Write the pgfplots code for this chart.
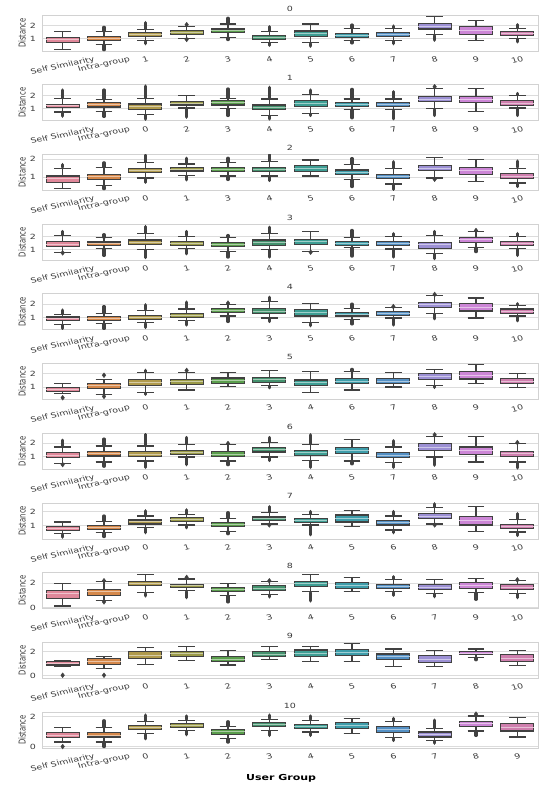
\documentclass[border=0pt]{standalone}
\usepackage{pgfplots}
\pgfplotsset{compat=1.18}
\usepgfplotslibrary{statistics}
\usepackage{fontspec}
\setmainfont{DejaVu Sans}

\definecolor{edge}{HTML}{414141}
\definecolor{framec}{HTML}{D2D2D2}
\definecolor{gridc}{HTML}{DCDCDC}
\definecolor{txt}{HTML}{3A3A3A}
\definecolor{c0}{HTML}{E0889A}
\definecolor{c1}{HTML}{D5884A}
\definecolor{c2}{HTML}{B09A4C}
\definecolor{c3}{HTML}{9A9A48}
\definecolor{c4}{HTML}{5A9E4C}
\definecolor{c5}{HTML}{44926E}
\definecolor{c6}{HTML}{3E9E94}
\definecolor{c7}{HTML}{3E9DAA}
\definecolor{c8}{HTML}{5490C4}
\definecolor{c9}{HTML}{9C90D4}
\definecolor{c10}{HTML}{CC86D6}
\definecolor{c11}{HTML}{CF7FAE}

% squeezed text
\newcommand{\sq}[1]{\scalebox{1}[0.75]{#1}}
\newcommand{\xl}[1]{\scalebox{1}[0.75]{\rotatebox{15}{#1}}}
% box: position, colour, lower whisker, q1, median, q3, upper whisker
\newcommand{\bx}[7]{\addplot[boxplot prepared={draw direction=y, draw position=#1, lower whisker=#3,
  lower quartile=#4, median=#5, upper quartile=#6, upper whisker=#7,
  box extend=0.8, whisker extend=0.4,
  every median/.style={draw=#2!50!white, line width=1pt}},
  draw=edge, fill=#2, line width=1.2pt] coordinates {};}
% dense run of outliers
\newcommand{\ol}[3]{\addplot[draw=edge, line width=3.4pt, line cap=round] coordinates {(#1,#2) (#1,#3)};}
% single outlier
\newcommand{\od}[2]{\addplot[only marks, mark=diamond*, mark size=2.4pt, draw=edge, fill=edge] coordinates {(#1,#2)};}

\pgfplotsset{
  panel/.style={
    scale only axis, width=496pt, height=36pt, anchor=north west,
    xmin=-0.5, xmax=11.5, xtick={0,...,11},
    axis line style={draw=framec, line width=0.8pt},
    ymajorgrids, grid style={draw=gridc, line width=0.8pt},
    major tick length=0pt, tick style={draw=none},
    xticklabel style={anchor=north, inner sep=0pt, yshift=-5pt,
      font=\fontsize{9.5}{11}\selectfont, text=txt},
    yticklabel style={anchor=east, inner sep=0pt, xshift=-6pt,
      font=\fontsize{9.5}{11}\selectfont, text=txt},
    ylabel={\scalebox{0.72}[1]{Distance}},
    every axis y label/.style={at={(axis description cs:-0.0403,0.5)},
      rotate=90, anchor=center, font=\fontsize{9.5}{11}\selectfont, text=txt},
    every axis title/.style={at={(axis description cs:0.5,1)}, anchor=base,
      yshift=4pt, font=\fontsize{9.5}{11}\selectfont, text=txt},
  },
  ya/.style={ytick={1,2}, yticklabels={\sq{1},\sq{2}}},
  yb/.style={ytick={0,2}, yticklabels={\sq{0},\sq{2}}},
}

\begin{document}
\begin{tikzpicture}
\useasboundingbox (0,0) rectangle (540pt,-785pt);

% ---- 0
\begin{axis}[panel, ya, at={(42pt,-15pt)}, title={\sq{0}}, ymin=0.02, ymax=2.84,
  xticklabels={\xl{Self Similarity},\xl{Intra-group},\xl{1},\xl{2},\xl{3},\xl{4},\xl{5},\xl{6},\xl{7},\xl{8},\xl{9},\xl{10}}]
\bx{0}{c0}{0.16}{0.68}{0.9}{1.08}{1.53}
\bx{1}{c1}{0.5}{0.87}{1.0}{1.13}{1.53} \ol{1}{1.6}{1.87} \ol{1}{0.45}{0.13}
\bx{2}{c2}{0.82}{1.18}{1.32}{1.45}{1.71} \ol{2}{1.78}{2.24} \ol{2}{0.76}{0.6}
\bx{3}{c3}{1.0}{1.34}{1.47}{1.6}{1.97} \od{3}{2.08} \od{3}{0.93}
\bx{4}{c4}{1.08}{1.45}{1.6}{1.74}{2.13} \ol{4}{2.2}{2.58} \ol{4}{1.02}{0.92}
\bx{5}{c5}{0.68}{0.95}{1.1}{1.24}{1.53} \ol{5}{1.6}{1.92} \ol{5}{0.62}{0.47}
\bx{6}{c6}{0.66}{1.13}{1.4}{1.58}{2.13} \ol{6}{0.6}{0.4}
\bx{7}{c7}{0.82}{1.1}{1.25}{1.39}{1.79} \ol{7}{1.86}{2.05} \ol{7}{0.76}{0.66}
\bx{8}{c8}{0.87}{1.16}{1.3}{1.45}{1.79} \ol{8}{1.86}{1.97} \ol{8}{0.8}{0.6}
\bx{9}{c9}{1.29}{1.74}{1.97}{2.18}{2.71} \ol{9}{1.22}{0.87}
\bx{10}{c10}{0.84}{1.34}{1.66}{1.97}{2.39}
\bx{11}{c11}{1.0}{1.24}{1.38}{1.53}{1.76} \ol{11}{1.83}{2.08} \ol{11}{0.94}{0.74}
\end{axis}

% ---- 1
\begin{axis}[panel, ya, at={(42pt,-84.7pt)}, title={\sq{1}}, ymin=0.06, ymax=2.87,
  xticklabels={\xl{Self Similarity},\xl{Intra-group},\xl{0},\xl{2},\xl{3},\xl{4},\xl{5},\xl{6},\xl{7},\xl{8},\xl{9},\xl{10}}]
\bx{0}{c0}{0.74}{1.08}{1.21}{1.34}{1.79} \ol{0}{1.86}{2.45} \ol{0}{0.68}{0.42}
\bx{1}{c1}{0.79}{1.13}{1.29}{1.45}{1.74} \ol{1}{1.8}{2.45} \ol{1}{0.72}{0.4}
\bx{2}{c2}{0.55}{0.95}{1.18}{1.37}{1.79} \ol{2}{1.86}{2.76} \ol{2}{0.48}{0.18}
\bx{3}{c3}{1.05}{1.29}{1.43}{1.58}{2.0} \ol{3}{0.98}{0.34}
\bx{4}{c4}{1.0}{1.29}{1.45}{1.61}{1.79} \ol{4}{1.86}{2.53} \ol{4}{0.93}{0.47}
\bx{5}{c5}{0.47}{0.95}{1.12}{1.29}{1.76} \ol{5}{1.83}{2.66} \ol{5}{0.4}{0.2}
\bx{6}{c6}{0.63}{1.18}{1.39}{1.61}{2.13} \ol{6}{2.2}{2.45} \ol{6}{0.56}{0.47}
\bx{7}{c7}{0.92}{1.18}{1.33}{1.47}{1.76} \ol{7}{1.83}{2.5} \ol{7}{0.85}{0.29}
\bx{8}{c8}{0.92}{1.18}{1.33}{1.47}{1.76} \ol{8}{1.83}{2.32} \ol{8}{0.85}{0.21}
\bx{9}{c9}{1.0}{1.53}{1.74}{1.92}{2.58} \od{9}{2.71} \ol{9}{0.93}{0.47}
\bx{10}{c10}{0.79}{1.47}{1.74}{1.97}{2.58}
\bx{11}{c11}{1.05}{1.26}{1.42}{1.61}{2.03} \ol{11}{2.1}{2.18} \ol{11}{0.98}{0.47}
\end{axis}

% ---- 2
\begin{axis}[panel, ya, at={(42pt,-154.4pt)}, title={\sq{2}}, ymin=0.24, ymax=2.28,
  xticklabels={\xl{Self Similarity},\xl{Intra-group},\xl{0},\xl{1},\xl{3},\xl{4},\xl{5},\xl{6},\xl{7},\xl{8},\xl{9},\xl{10}}]
\bx{0}{c0}{0.36}{0.7}{0.9}{1.06}{1.5} \ol{0}{1.56}{1.7}
\bx{1}{c1}{0.5}{0.84}{1.0}{1.16}{1.54} \ol{1}{1.6}{1.8} \ol{1}{0.45}{0.34}
\bx{2}{c2}{0.94}{1.26}{1.38}{1.5}{1.8} \ol{2}{1.86}{2.24} \ol{2}{0.88}{0.7}
\bx{3}{c3}{1.1}{1.34}{1.44}{1.54}{1.74} \ol{3}{1.8}{2.06} \ol{3}{1.04}{0.84}
\bx{4}{c4}{1.06}{1.3}{1.43}{1.56}{1.8} \ol{4}{1.86}{2.06} \ol{4}{1.0}{0.86}
\bx{5}{c5}{1.06}{1.3}{1.44}{1.56}{1.86} \ol{5}{1.92}{2.26} \ol{5}{1.0}{0.8}
\bx{6}{c6}{1.06}{1.3}{1.5}{1.66}{1.96}
\bx{7}{c7}{0.86}{1.14}{1.27}{1.4}{1.7} \ol{7}{1.76}{2.04} \ol{7}{0.8}{0.46}
\bx{8}{c8}{0.6}{0.9}{1.02}{1.14}{1.46} \ol{8}{1.52}{1.86} \ol{8}{0.54}{0.3}
\bx{9}{c9}{0.94}{1.36}{1.5}{1.66}{2.1} \od{9}{0.87}
\bx{10}{c10}{0.74}{1.14}{1.34}{1.54}{2.0}
\bx{11}{c11}{0.66}{0.9}{1.04}{1.18}{1.5} \ol{11}{1.56}{1.9} \ol{11}{0.6}{0.46}
\end{axis}

% ---- 3
\begin{axis}[panel, ya, at={(42pt,-224.1pt)}, title={\sq{3}}, ymin=0.18, ymax=3.0,
  xticklabels={\xl{Self Similarity},\xl{Intra-group},\xl{0},\xl{1},\xl{2},\xl{4},\xl{5},\xl{6},\xl{7},\xl{8},\xl{9},\xl{10}}]
\bx{0}{c0}{0.8}{1.25}{1.42}{1.62}{2.12} \ol{0}{2.18}{2.42} \od{0}{0.75}
\bx{1}{c1}{1.1}{1.3}{1.45}{1.6}{1.92} \ol{1}{1.98}{2.17} \ol{1}{1.04}{0.55}
\bx{2}{c2}{1.0}{1.38}{1.57}{1.75}{2.25} \ol{2}{2.32}{2.8} \ol{2}{0.94}{0.38}
\bx{3}{c3}{1.1}{1.35}{1.5}{1.65}{2.05} \ol{3}{2.12}{2.42} \ol{3}{1.04}{0.68}
\bx{4}{c4}{0.85}{1.25}{1.4}{1.55}{1.98} \ol{4}{2.04}{2.1} \ol{4}{0.8}{0.42}
\bx{5}{c5}{1.0}{1.35}{1.55}{1.75}{2.25} \ol{5}{2.32}{2.75} \ol{5}{0.94}{0.42}
\bx{6}{c6}{0.85}{1.42}{1.6}{1.8}{2.42} \od{6}{0.8}
\bx{7}{c7}{1.15}{1.35}{1.5}{1.65}{1.98} \ol{7}{2.04}{2.5} \ol{7}{1.09}{0.5}
\bx{8}{c8}{1.05}{1.35}{1.5}{1.65}{2.0} \ol{8}{2.06}{2.25} \ol{8}{0.99}{0.42}
\bx{9}{c9}{0.68}{1.1}{1.38}{1.55}{2.1} \ol{9}{2.16}{2.42} \ol{9}{0.62}{0.3}
\bx{10}{c10}{1.18}{1.55}{1.8}{1.98}{2.42} \od{10}{2.5} \ol{10}{1.12}{0.85}
\bx{11}{c11}{1.1}{1.35}{1.5}{1.65}{2.0} \ol{11}{2.06}{2.25} \ol{11}{1.04}{0.55}
\end{axis}

% ---- 4
\begin{axis}[panel, ya, at={(42pt,-293.8pt)}, title={\sq{4}}, ymin=0.1, ymax=2.77,
  xticklabels={\xl{Self Similarity},\xl{Intra-group},\xl{0},\xl{1},\xl{2},\xl{3},\xl{5},\xl{6},\xl{7},\xl{8},\xl{9},\xl{10}}]
\bx{0}{c0}{0.51}{0.77}{0.92}{1.05}{1.23} \ol{0}{1.29}{1.56} \ol{0}{0.46}{0.2}
\bx{1}{c1}{0.54}{0.8}{0.97}{1.1}{1.31} \ol{1}{1.37}{1.82} \ol{1}{0.48}{0.2}
\bx{2}{c2}{0.62}{0.87}{1.03}{1.18}{1.56} \ol{2}{1.62}{1.95} \ol{2}{0.56}{0.28}
\bx{3}{c3}{0.8}{1.03}{1.18}{1.31}{1.64} \ol{3}{1.7}{2.15} \ol{3}{0.74}{0.46}
\bx{4}{c4}{1.13}{1.38}{1.54}{1.69}{2.0} \od{4}{2.08} \ol{4}{1.07}{0.72}
\bx{5}{c5}{0.97}{1.31}{1.49}{1.69}{2.2} \ol{5}{2.26}{2.51} \ol{5}{0.91}{0.72}
\bx{6}{c6}{0.62}{1.13}{1.38}{1.62}{2.08} \ol{6}{0.56}{0.41}
\bx{7}{c7}{0.87}{1.13}{1.26}{1.38}{1.69} \ol{7}{1.75}{2.0} \ol{7}{0.81}{0.54}
\bx{8}{c8}{0.97}{1.18}{1.31}{1.44}{1.74} \od{8}{1.82} \ol{8}{0.91}{0.46}
\bx{9}{c9}{1.31}{1.77}{2.0}{2.15}{2.64} \od{9}{2.72} \ol{9}{1.25}{0.92}
\bx{10}{c10}{0.97}{1.49}{1.77}{2.08}{2.46}
\bx{11}{c11}{1.13}{1.33}{1.49}{1.64}{1.9} \ol{11}{1.96}{2.03} \ol{11}{1.07}{0.77}
\end{axis}

% ---- 5
\begin{axis}[panel, ya, at={(42pt,-363.5pt)}, title={\sq{5}}, ymin=0.1, ymax=2.77,
  xticklabels={\xl{Self Similarity},\xl{Intra-group},\xl{0},\xl{1},\xl{2},\xl{3},\xl{4},\xl{6},\xl{7},\xl{8},\xl{9},\xl{10}}]
\bx{0}{c0}{0.54}{0.67}{0.82}{0.97}{1.28} \od{0}{0.23}
\bx{1}{c1}{0.46}{0.92}{1.13}{1.28}{1.56} \od{1}{1.9} \od{1}{0.33}
\bx{2}{c2}{0.62}{1.13}{1.38}{1.56}{2.08} \ol{2}{2.14}{2.26} \ol{2}{0.56}{0.49}
\bx{3}{c3}{0.8}{1.23}{1.41}{1.56}{2.13} \od{3}{2.26}
\bx{4}{c4}{1.05}{1.31}{1.5}{1.69}{2.08}
\bx{5}{c5}{1.13}{1.38}{1.59}{1.74}{2.26} \ol{5}{1.07}{0.97}
\bx{6}{c6}{0.62}{1.13}{1.33}{1.54}{2.15}
\bx{7}{c7}{0.8}{1.26}{1.44}{1.64}{2.15} \ol{7}{2.22}{2.33}
\bx{8}{c8}{1.03}{1.26}{1.44}{1.64}{2.08}
\bx{9}{c9}{1.13}{1.56}{1.79}{2.0}{2.33} \ol{9}{1.07}{1.0}
\bx{10}{c10}{1.26}{1.62}{1.9}{2.15}{2.69}
\bx{11}{c11}{1.0}{1.26}{1.44}{1.64}{2.0}
\end{axis}

% ---- 6
\begin{axis}[panel, ya, at={(42pt,-433.2pt)}, title={\sq{6}}, ymin=0.08, ymax=2.74,
  xticklabels={\xl{Self Similarity},\xl{Intra-group},\xl{0},\xl{1},\xl{2},\xl{3},\xl{4},\xl{5},\xl{7},\xl{8},\xl{9},\xl{10}}]
\bx{0}{c0}{0.48}{0.92}{1.12}{1.3}{1.72} \ol{0}{1.78}{2.22} \od{0}{0.42}
\bx{1}{c1}{0.62}{1.05}{1.22}{1.38}{1.8} \ol{1}{1.86}{2.3} \ol{1}{0.56}{0.3}
\bx{2}{c2}{0.68}{1.0}{1.18}{1.38}{1.8} \ol{2}{1.86}{2.65} \ol{2}{0.62}{0.22}
\bx{3}{c3}{0.98}{1.18}{1.32}{1.48}{1.88} \ol{3}{1.94}{2.42} \ol{3}{0.92}{0.42}
\bx{4}{c4}{0.68}{1.02}{1.2}{1.38}{1.88} \od{4}{1.98} \ol{4}{0.62}{0.42}
\bx{5}{c5}{0.98}{1.35}{1.52}{1.68}{2.05} \ol{5}{2.11}{2.42} \ol{5}{0.92}{0.72}
\bx{6}{c6}{0.72}{1.1}{1.28}{1.48}{1.88} \ol{6}{1.94}{2.62} \ol{6}{0.66}{0.22}
\bx{7}{c7}{0.68}{1.22}{1.45}{1.68}{2.3} \ol{7}{0.62}{0.48}
\bx{8}{c8}{0.55}{0.92}{1.12}{1.3}{1.72} \ol{8}{1.78}{2.18} \ol{8}{0.49}{0.22}
\bx{9}{c9}{0.98}{1.48}{1.72}{1.98}{2.48} \od{9}{2.62} \ol{9}{0.92}{0.38}
\bx{10}{c10}{0.62}{1.18}{1.48}{1.72}{2.48}
\bx{11}{c11}{0.62}{1.02}{1.22}{1.38}{1.98} \od{11}{2.05} \ol{11}{0.56}{0.18}
\end{axis}

% ---- 7
\begin{axis}[panel, ya, at={(42pt,-502.9pt)}, title={\sq{7}}, ymin=0.05, ymax=2.62,
  xticklabels={\xl{Self Similarity},\xl{Intra-group},\xl{0},\xl{1},\xl{2},\xl{3},\xl{4},\xl{5},\xl{6},\xl{8},\xl{9},\xl{10}}]
\bx{0}{c0}{0.42}{0.65}{0.8}{0.92}{1.25} \ol{0}{0.36}{0.18}
\bx{1}{c1}{0.5}{0.72}{0.88}{1.0}{1.3} \ol{1}{1.36}{1.68} \ol{1}{0.44}{0.22}
\bx{2}{c2}{0.85}{1.12}{1.28}{1.4}{1.68} \ol{2}{1.74}{2.05} \ol{2}{0.79}{0.5}
\bx{3}{c3}{1.05}{1.3}{1.42}{1.55}{1.8} \ol{3}{1.86}{2.12} \ol{3}{0.99}{0.85}
\bx{4}{c4}{0.6}{0.92}{1.08}{1.22}{1.5} \ol{4}{1.56}{1.92} \ol{4}{0.54}{0.42}
\bx{5}{c5}{1.12}{1.35}{1.5}{1.62}{1.92} \ol{5}{1.98}{2.35} \od{5}{1.05}
\bx{6}{c6}{1.05}{1.22}{1.35}{1.48}{1.8} \ol{6}{1.86}{2.0} \ol{6}{0.99}{0.35}
\bx{7}{c7}{0.92}{1.25}{1.5}{1.75}{2.1}
\bx{8}{c8}{0.68}{1.05}{1.2}{1.35}{1.68} \ol{8}{1.74}{2.0} \ol{8}{0.62}{0.5}
\bx{9}{c9}{1.12}{1.5}{1.68}{1.88}{2.3} \ol{9}{2.36}{2.55} \od{9}{1.05}
\bx{10}{c10}{0.6}{1.05}{1.35}{1.65}{2.35}
\bx{11}{c11}{0.55}{0.78}{0.92}{1.1}{1.42} \ol{11}{1.48}{1.85} \ol{11}{0.49}{0.3}
\end{axis}

% ---- 8
\begin{axis}[panel, yb, at={(42pt,-572.6pt)}, title={\sq{8}}, ymin=-0.08, ymax=2.86,
  xticklabels={\xl{Self Similarity},\xl{Intra-group},\xl{0},\xl{1},\xl{2},\xl{3},\xl{4},\xl{5},\xl{6},\xl{7},\xl{9},\xl{10}}]
\bx{0}{c0}{0.14}{0.77}{1.15}{1.42}{2.0}
\bx{1}{c1}{0.55}{1.01}{1.29}{1.51}{2.11} \od{1}{2.19} \od{1}{0.47}
\bx{2}{c2}{1.23}{1.78}{1.97}{2.14}{2.68} \ol{2}{1.15}{0.96}
\bx{3}{c3}{1.37}{1.64}{1.78}{1.92}{2.33} \od{3}{2.47} \ol{3}{1.3}{0.82}
\bx{4}{c4}{0.96}{1.32}{1.48}{1.64}{2.0} \ol{4}{0.9}{0.47}
\bx{5}{c5}{1.1}{1.42}{1.6}{1.78}{2.11} \od{5}{2.19} \ol{5}{1.04}{0.88}
\bx{6}{c6}{1.29}{1.73}{1.95}{2.14}{2.68} \ol{6}{1.22}{0.55}
\bx{7}{c7}{1.29}{1.59}{1.84}{2.05}{2.47}
\bx{8}{c8}{1.29}{1.56}{1.74}{1.92}{2.27} \ol{8}{2.35}{2.52} \ol{8}{1.22}{1.01}
\bx{9}{c9}{1.18}{1.51}{1.68}{1.86}{2.27} \ol{9}{1.12}{0.9}
\bx{10}{c10}{1.23}{1.59}{1.84}{2.05}{2.38} \ol{10}{1.16}{0.68}
\bx{11}{c11}{1.18}{1.51}{1.68}{1.86}{2.19} \od{11}{2.27} \ol{11}{1.12}{0.82}
\end{axis}

% ---- 9
\begin{axis}[panel, yb, at={(42pt,-642.3pt)}, title={\sq{9}}, ymin=-0.2, ymax=2.74,
  xticklabels={\xl{Self Similarity},\xl{Intra-group},\xl{0},\xl{1},\xl{2},\xl{3},\xl{4},\xl{5},\xl{6},\xl{7},\xl{8},\xl{10}}]
\bx{0}{c0}{0.77}{0.88}{1.01}{1.15}{1.23} \od{0}{0.05}
\bx{1}{c1}{0.6}{0.96}{1.2}{1.42}{1.59} \od{1}{0.05}
\bx{2}{c2}{0.96}{1.42}{1.7}{1.97}{2.33}
\bx{3}{c3}{1.23}{1.59}{1.81}{2.0}{2.38}
\bx{4}{c4}{0.88}{1.18}{1.37}{1.59}{2.05}
\bx{5}{c5}{1.32}{1.59}{1.78}{1.97}{2.38}
\bx{6}{c6}{1.15}{1.59}{1.84}{2.11}{2.38}
\bx{7}{c7}{1.18}{1.64}{1.89}{2.14}{2.66}
\bx{8}{c8}{0.77}{1.32}{1.56}{1.78}{2.19}
\bx{9}{c9}{0.77}{1.1}{1.37}{1.64}{2.05}
\bx{10}{c10}{1.51}{1.73}{1.86}{2.0}{2.19} \ol{10}{1.45}{1.32}
\bx{11}{c11}{0.82}{1.18}{1.45}{1.73}{2.05}
\end{axis}

% ---- 10
\begin{axis}[panel, yb, at={(42pt,-712pt)}, title={\sq{10}}, ymin=-0.1, ymax=2.32,
  xticklabels={\xl{Self Similarity},\xl{Intra-group},\xl{0},\xl{1},\xl{2},\xl{3},\xl{4},\xl{5},\xl{6},\xl{7},\xl{8},\xl{9}},
  xlabel={\sq{\bfseries User Group}},
  every axis x label/.style={at={(axis description cs:0.482,0)}, anchor=base,
    yshift=-32pt, font=\fontsize{11}{13}\selectfont, text=black}]
\bx{0}{c0}{0.3}{0.59}{0.75}{0.93}{1.27} \od{0}{0.0}
\bx{1}{c1}{0.3}{0.64}{0.77}{0.93}{1.27} \ol{1}{1.33}{1.73} \ol{1}{0.24}{0.0}
\bx{2}{c2}{0.86}{1.14}{1.27}{1.43}{1.66} \ol{2}{1.72}{2.11} \ol{2}{0.8}{0.52}
\bx{3}{c3}{1.09}{1.27}{1.41}{1.55}{1.77} \ol{3}{1.83}{2.05} \ol{3}{1.03}{0.8}
\bx{4}{c4}{0.52}{0.82}{0.98}{1.14}{1.36} \ol{4}{1.42}{1.66} \ol{4}{0.46}{0.3}
\bx{5}{c5}{1.09}{1.32}{1.45}{1.59}{1.84} \ol{5}{1.9}{2.11} \ol{5}{1.03}{0.75}
\bx{6}{c6}{0.98}{1.2}{1.36}{1.5}{1.77} \ol{6}{1.83}{2.05} \ol{6}{0.92}{0.75}
\bx{7}{c7}{0.86}{1.2}{1.41}{1.59}{1.89}
\bx{8}{c8}{0.59}{0.93}{1.14}{1.32}{1.66} \ol{8}{1.72}{1.89} \ol{8}{0.53}{0.41}
\bx{9}{c9}{0.41}{0.64}{0.8}{0.98}{1.2} \ol{9}{1.26}{1.77} \ol{9}{0.35}{0.23}
\bx{10}{c10}{1.05}{1.36}{1.55}{1.7}{2.05} \od{10}{2.18} \ol{10}{0.99}{0.75}
\bx{11}{c11}{0.64}{1.05}{1.3}{1.55}{1.95}
\end{axis}
\end{tikzpicture}
\end{document}
